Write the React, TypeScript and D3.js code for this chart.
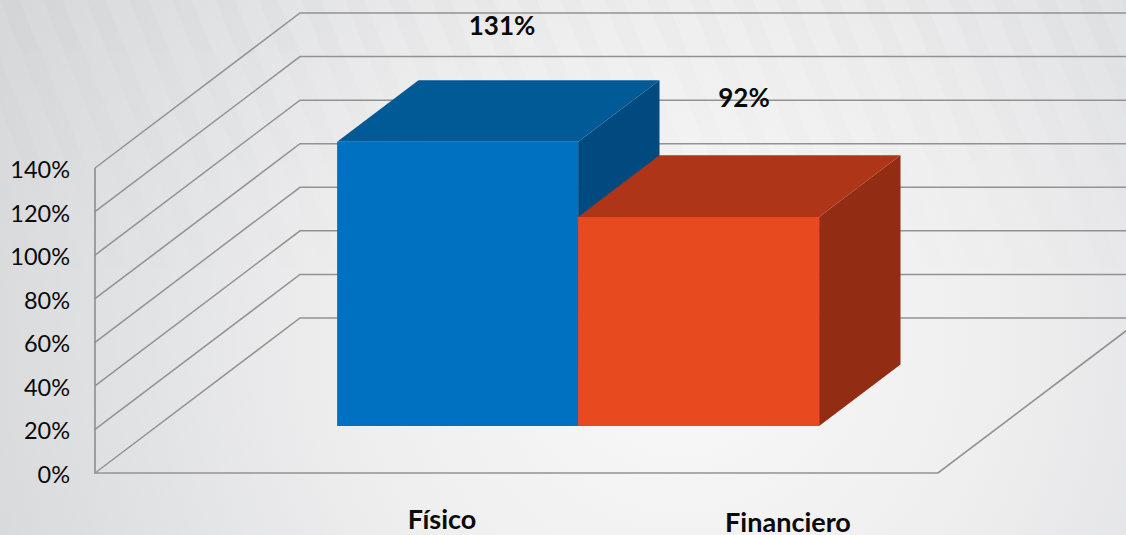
import React, { useEffect, useRef } from 'react';
import * as d3 from 'd3';

const categories = ['Físico', 'Financiero'];
// drawn heights (the 92% bar is drawn a bit taller than its label)
const barHeights = [130.5, 96];
const barLabels = ['131%', '92%'];
const yTicks = [0, 20, 40, 60, 80, 100, 120, 140];
const frontColors = ['#0070c0', '#e84a20'];
const topColors = ['#005a96', '#ae3518'];
const sideColors = ['#004a80', '#922c12'];

const width = 1126;
const height = 535;

const App = () => {
    const svgRef = useRef<SVGSVGElement>(null);

    useEffect(() => {
        const svg = d3.select(svgRef.current);
        svg.selectAll('*').remove();

        const defs = svg.append('defs');
        const bg = defs.append('radialGradient')
            .attr('id', 'bg')
            .attr('gradientUnits', 'userSpaceOnUse')
            .attr('cx', 680).attr('cy', 340).attr('r', 740);
        bg.append('stop').attr('offset', '0%').attr('stop-color', '#f9f9fa');
        bg.append('stop').attr('offset', '45%').attr('stop-color', '#eeeeef');
        bg.append('stop').attr('offset', '100%').attr('stop-color', '#d7d8da');

        const stripes = defs.append('pattern')
            .attr('id', 'stripes')
            .attr('patternUnits', 'userSpaceOnUse')
            .attr('width', 40).attr('height', 46)
            .attr('patternTransform', 'rotate(-22)');
        stripes.append('rect').attr('width', 18).attr('height', 46).attr('fill', '#000').attr('opacity', 0.012);

        const fade = defs.append('linearGradient')
            .attr('id', 'fade').attr('x1', 0).attr('y1', 0).attr('x2', 0).attr('y2', 1);
        fade.append('stop').attr('offset', '0%').attr('stop-color', '#fff');
        fade.append('stop').attr('offset', '60%').attr('stop-color', '#000');
        defs.append('mask').attr('id', 'fadeMask')
            .append('rect').attr('width', width).attr('height', height).attr('fill', 'url(#fade)');

        svg.append('rect').attr('width', width).attr('height', height).attr('fill', 'url(#bg)');
        svg.append('rect').attr('width', width).attr('height', height)
            .attr('fill', 'url(#stripes)').attr('mask', 'url(#fadeMask)');

        const y = d3.scaleLinear().domain([0, 140]).range([473, 168]);
        const xBand = d3.scaleBand().domain(categories).range([94.5, 937.5]).paddingInner(0).paddingOuter(0.749);
        // depth of the 3D box, 0 = front wall, 1 = back wall
        const depthX = d3.scaleLinear().domain([0, 1]).range([0, 205]);
        const depthY = d3.scaleLinear().domain([0, 1]).range([0, -155]);
        const project = (x: number, value: number, t: number): [number, number] => [x + depthX(t), y(value) + depthY(t)];
        const poly = d3.line();

        const gridColor = '#929292';

        // Walls
        const grid = svg.append('g').attr('fill', 'none').attr('stroke', gridColor);
        grid.selectAll('path.wall')
            .data(yTicks)
            .join('path')
            .attr('class', 'wall')
            .attr('stroke-width', 1.5)
            .attr('d', d => poly([project(95, d, 0), project(95, d, 1), project(1200, d, 1)]));
        grid.append('path')
            .attr('stroke-width', 1.7)
            .attr('d', poly([project(95, 140, 0), project(95, 0, 0), project(938, 0, 0), project(938, 0, 1)]));

        // Bars
        const t0 = 0.303;
        const t1 = 0.7;
        const bars = svg.append('g')
            .selectAll('g')
            .data(categories)
            .join('g');

        bars.append('path')
            .attr('fill', (_, i) => sideColors[i])
            .attr('d', (d, i) => {
                const x = xBand(d)! + xBand.bandwidth();
                return poly([project(x, 0, t0), project(x, barHeights[i], t0), project(x, barHeights[i], t1), project(x, 0, t1)]);
            });
        bars.append('path')
            .attr('fill', (_, i) => topColors[i])
            .attr('d', (d, i) => {
                const x0 = xBand(d)!;
                const x1 = x0 + xBand.bandwidth();
                return poly([project(x0, barHeights[i], t0), project(x1, barHeights[i], t0), project(x1, barHeights[i], t1), project(x0, barHeights[i], t1)]);
            });
        bars.append('path')
            .attr('fill', (_, i) => frontColors[i])
            .attr('d', (d, i) => {
                const x0 = xBand(d)!;
                const x1 = x0 + xBand.bandwidth();
                return poly([project(x0, 0, t0), project(x1, 0, t0), project(x1, barHeights[i], t0), project(x0, barHeights[i], t0)]);
            });

        // Y axis
        const axis = d3.axisLeft(y).tickValues(yTicks).tickSize(0).tickPadding(25).tickFormat(d => `${d}%`);
        const axisGroup = svg.append('g').attr('transform', 'translate(95,2)').call(axis);
        axisGroup.select('.domain').remove();
        axisGroup.selectAll('text')
            .attr('font-family', 'Lato, "Open Sans", sans-serif')
            .attr('font-size', 23.5)
            .attr('fill', '#0a0a0a');

        // Text boxes placed by hand in the original
        const labelFont = 'Lato, "Open Sans", sans-serif';
        const labelX = [502, 744];
        const labelY = [26, 98];
        svg.append('g').selectAll('text')
            .data(barLabels)
            .join('text')
            .attr('x', (_, i) => labelX[i])
            .attr('y', (_, i) => labelY[i])
            .attr('dy', '0.35em')
            .attr('text-anchor', 'middle')
            .attr('font-family', labelFont)
            .attr('font-size', 26)
            .attr('font-weight', 700)
            .attr('fill', '#0a0a0a')
            .text(d => d);

        const catX = [442, 788];
        const catY = [520, 523];
        svg.append('g').selectAll('text')
            .data(categories)
            .join('text')
            .attr('x', (_, i) => catX[i])
            .attr('y', (_, i) => catY[i])
            .attr('dy', '0.35em')
            .attr('text-anchor', 'middle')
            .attr('font-family', labelFont)
            .attr('font-size', 27)
            .attr('font-weight', 700)
            .attr('fill', '#0a0a0a')
            .text(d => d);
    }, []);

    return <svg ref={svgRef} width={width} height={height} style={{ position: 'absolute', left: 0, top: 0 }}></svg>;
};

export default App;
